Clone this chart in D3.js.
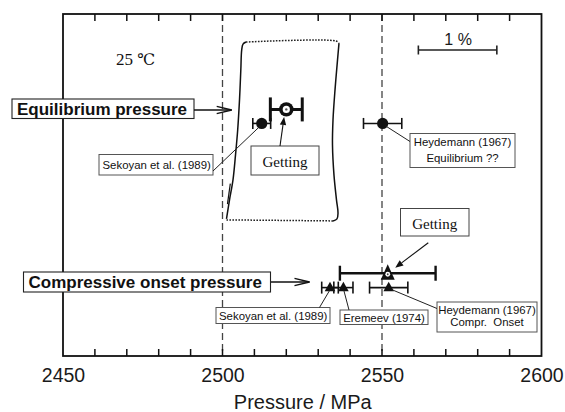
<!DOCTYPE html>
<html><head><meta charset="utf-8">
<script src="https://cdn.jsdelivr.net/npm/d3@7"></script>
<style>
html,body{margin:0;padding:0;background:#fff;}
text{white-space:pre;}
</style>
</head><body>
<svg id="chart" width="565" height="412"></svg>
<script>
// Pressure axis (MPa)
const xTickLabels = [2450, 2500, 2550, 2600];
const minorTicks = d3.range(2460, 2600, 10);
const refLines = [2500, 2550];

// Equilibrium pressure determinations: source, pressure, ± error, plot level
const eqSources = ["Getting", "Sekoyan et al. (1989)", "Heydemann (1967)"];
const eqPressure = [2520.0, 2512.3, 2550.2];
const eqError = [5.0, 2.8, 6.0];
const eqLevel = [7.21, 6.80, 6.80];

// Compressive onset pressure determinations
const onsetSources = ["Getting", "Sekoyan et al. (1989)", "Eremeev (1974)", "Heydemann (1967)"];
const onsetPressure = [2551.8, 2533.7, 2537.9, 2552.1];
const onsetError = [15.0, 2.6, 3.0, 6.0];
const onsetLevel = [2.42, 2.00, 2.00, 2.00];

// Hysteresis loop traced by Getting: [pressure, level]
const loopLeft = [[2501.25,4.01],[2502.19,4.56],[2503.29,5.15],[2504.08,5.88],[2504.76,6.61],
  [2505.33,7.49],[2505.74,8.36],[2506.02,8.95],[2506.43,9.12],[2507.37,9.18]];
const loopTop = [[2507.37,9.18],[2535.58,9.21],[2536.52,9.15]];
const loopRight = [[2536.52,9.15],[2536.05,8.65],[2535.27,7.78],[2534.64,6.90],[2534.48,6.17],
  [2534.95,5.29],[2535.74,4.56],[2536.21,4.18],[2535.89,4.01],[2534.64,3.95]];
const loopBottom = [[2534.64,3.95],[2501.25,3.98]];
const loopMark = [[2501.55,4.44],[2502.45,5.04]];

// 1 % strain scale bar, expressed along the pressure axis
const scaleBar = [2561.4, 2586.0];

const svg = d3.select("#chart");
const x = d3.scaleLinear().domain([2450, 2600]).range([63, 541.5]);
const y = d3.scaleLinear().domain([0, 10]).range([356, 14]);
const ink = "#111";
const sans = "Liberation Sans, Arial, sans-serif";
const serif = "Liberation Serif, Times New Roman, serif";

// dashed reference lines
refLines.forEach(d => svg.append("line")
  .attr("x1", x(d)).attr("x2", x(d))
  .attr("y1", y(10)).attr("y2", y(0))
  .attr("stroke", "#444").attr("stroke-width", 1.3).attr("stroke-dasharray", "7,4"));

// tick labels
const labelAxis = d3.axisBottom(x).tickValues(xTickLabels).tickSize(0).tickPadding(12).tickFormat(d3.format("d"));
const gl = svg.append("g").attr("transform", `translate(0,${y(0)})`).call(labelAxis);
gl.select(".domain").remove();
gl.selectAll(".tick text").attr("font-family", sans)
  .attr("font-size", 19.5).attr("fill", "#1a1a1a");

// frame
svg.append("rect").attr("x", x(2450)).attr("y", y(10))
  .attr("width", x(2600) - x(2450)).attr("height", y(0) - y(10))
  .attr("fill", "none").attr("stroke", ink).attr("stroke-width", 1.8);

// axis title
svg.append("text").attr("x", (x(2450) + x(2600)) / 2 + 0.5).attr("y", 409)
  .attr("text-anchor", "middle").attr("font-family", sans)
  .attr("font-size", 20).attr("fill", "#1a1a1a").text("Pressure / MPa");

// hysteresis loop
const line = d3.line().x(d => x(d[0])).y(d => y(d[1])).curve(d3.curveCatmullRom.alpha(0.5));
[loopLeft, loopRight].forEach(seg => {
  svg.append("path").attr("d", line(seg)).attr("fill", "none")
    .attr("stroke", ink).attr("stroke-width", 1.5);
});
[loopTop, loopBottom].forEach(seg => {
  svg.append("path").attr("d", line(seg)).attr("fill", "none")
    .attr("stroke", "#222").attr("stroke-width", 1.5).attr("stroke-dasharray", "1.6,1.4");
});
svg.append("path").attr("d", d3.line().x(d => x(d[0])).y(d => y(d[1]))(loopMark))
  .attr("fill", "none").attr("stroke", ink).attr("stroke-width", 1.2);

// temperature note
const temp = svg.append("text").attr("x", 116).attr("y", 65)
  .attr("font-family", serif).attr("font-size", 17).attr("fill", ink);
temp.append("tspan").text("25 ");
temp.append("tspan").attr("font-family", "DejaVu Serif, serif").attr("font-size", 16).text("℃");

// scale bar
const sb = svg.append("g").attr("stroke", "#222").attr("stroke-width", 1.6);
sb.append("line").attr("x1", x(scaleBar[0])).attr("x2", x(scaleBar[1])).attr("y1", 50).attr("y2", 50);
scaleBar.forEach(v => sb.append("line").attr("x1", x(v)).attr("x2", x(v)).attr("y1", 45.5).attr("y2", 54.5));
svg.append("text").attr("x", (x(scaleBar[0]) + x(scaleBar[1])) / 2 + 0.5).attr("y", 44.5)
  .attr("text-anchor", "middle").attr("font-family", sans)
  .attr("font-size", 16).attr("fill", "#1a1a1a").text("1 %");

// error bars
function errorBar(p, e, lev, cap, sw) {
  const g = svg.append("g").attr("stroke", ink).attr("stroke-width", sw);
  const cy = y(lev);
  g.append("line").attr("x1", x(p - e)).attr("x2", x(p + e)).attr("y1", cy).attr("y2", cy);
  [p - e, p + e].forEach(v => g.append("line").attr("x1", x(v)).attr("x2", x(v))
    .attr("y1", cy - cap).attr("y2", cy + cap));
}
eqSources.forEach((s, i) => {
  const big = s === "Getting";
  errorBar(eqPressure[i], eqError[i], eqLevel[i], big ? 12 : 5.5, big ? 3 : 1.6);
});
onsetSources.forEach((s, i) => {
  const big = s === "Getting";
  errorBar(onsetPressure[i], onsetError[i], onsetLevel[i], big ? 7.5 : 6, big ? 2.4 : 1.6);
});

// equilibrium markers
eqSources.forEach((s, i) => {
  const cx = x(eqPressure[i]), cy = y(eqLevel[i]);
  if (s === "Getting") {
    svg.append("circle").attr("cx", cx).attr("cy", cy).attr("r", 7.2).attr("fill", ink);
    svg.append("circle").attr("cx", cx).attr("cy", cy).attr("r", 3.6).attr("fill", "#fff");
    svg.append("circle").attr("cx", cx).attr("cy", cy).attr("r", 1.2).attr("fill", "#555");
  } else {
    svg.append("circle").attr("cx", cx).attr("cy", cy).attr("r", 5.6).attr("fill", ink);
  }
});

// onset markers
function tri(cx, cy, hw, up, down) {
  return `M${cx},${cy - up}L${cx + hw},${cy + down}L${cx - hw},${cy + down}Z`;
}
onsetSources.forEach((s, i) => {
  const cx = x(onsetPressure[i]), cy = y(onsetLevel[i]);
  if (s === "Getting") {
    svg.append("path").attr("d", tri(cx, cy, 7, 9, 6.5)).attr("fill", ink);
    svg.append("circle").attr("cx", cx).attr("cy", cy + 1).attr("r", 2.4).attr("fill", "#fff");
    svg.append("circle").attr("cx", cx).attr("cy", cy + 1).attr("r", 0.9).attr("fill", "#444");
  } else {
    svg.append("path").attr("d", tri(cx, cy, 5.3, 5.8, 3.6)).attr("fill", ink);
  }
});

// annotation helpers
function box(bx, by, w, h, sw, col) {
  svg.append("rect").attr("x", bx).attr("y", by).attr("width", w).attr("height", h)
    .attr("fill", "#fff").attr("stroke", col || "#333").attr("stroke-width", sw || 1);
}
function label(tx, ty, str, font, size, anchor, weight) {
  svg.append("text").attr("x", tx).attr("y", ty).attr("font-family", font)
    .attr("font-size", size).attr("text-anchor", anchor || "start")
    .attr("font-weight", weight || "normal").attr("fill", "#111").text(str);
}
function leader(x1, y1, x2, y2) {
  svg.append("line").attr("x1", x1).attr("y1", y1).attr("x2", x2).attr("y2", y2)
    .attr("stroke", "#222").attr("stroke-width", 1);
}
function openArrow(x1, x2, yy) {
  const g = svg.append("g").attr("stroke", ink).attr("stroke-width", 1.4).attr("fill", "none");
  g.append("line").attr("x1", x1).attr("x2", x2).attr("y1", yy).attr("y2", yy);
  g.append("path").attr("d", `M${x2 - 15},${yy - 3.6}L${x2},${yy}L${x2 - 15},${yy + 3.6}`);
}
function filledArrow(x1, y1, x2, y2) {
  const a = Math.atan2(y2 - y1, x2 - x1), L = 8, W = 3.2;
  const bx = x2 - L * Math.cos(a), by = y2 - L * Math.sin(a);
  svg.append("line").attr("x1", x1).attr("y1", y1).attr("x2", bx).attr("y2", by)
    .attr("stroke", ink).attr("stroke-width", 1.1);
  svg.append("path").attr("d",
    `M${x2},${y2}L${bx + W * Math.sin(a)},${by - W * Math.cos(a)}L${bx - W * Math.sin(a)},${by + W * Math.cos(a)}Z`)
    .attr("fill", ink);
}

// group headings
box(12, 99, 182, 19.5, 1.1, "#222");
label(17, 114.5, "Equilibrium pressure", sans, 17, "start", "bold");
openArrow(194, 231.7, 110);

box(23.5, 272, 247, 20, 1.1, "#222");
label(28.5, 288, "Compressive onset pressure", sans, 17, "start", "bold");
openArrow(271, 309.5, 282);

// equilibrium annotations
const eqPt = i => [x(eqPressure[i]), y(eqLevel[i])];
box(99, 154.5, 114, 20.5, 1, "#555");
label(102.5, 168.5, eqSources[1], sans, 11.4);
leader(213, 171, eqPt(1)[0] - 2, eqPt(1)[1] + 3);

box(251, 146, 68, 29, 1, "#444");
label(285, 166.5, eqSources[0], serif, 15, "middle");
filledArrow(280, 146, eqPt(0)[0] - 2.2, eqPt(0)[1] + 7.5);

box(410, 133.5, 105, 34, 1, "#555");
label(462.5, 146, eqSources[2], sans, 11.4, "middle");
label(462.5, 161.5, "Equilibrium ??", sans, 11.4, "middle");
leader(eqPt(2)[0] + 3, eqPt(2)[1] + 2.5, 410, 141.5);

// onset annotations
const onPt = i => [x(onsetPressure[i]), y(onsetLevel[i])];
box(400.5, 208.5, 68.5, 27.5, 1, "#444");
label(434.7, 228.5, onsetSources[0], serif, 15, "middle");
filledArrow(428.3, 242.7, onPt(0)[0] + 7.5, onPt(0)[1] - 5.5);

box(216, 307.5, 114, 16, 1, "#555");
label(219, 320, onsetSources[1], sans, 11.4);
leader(319.5, 307.5, onPt(1)[0] - 0.5, onPt(1)[1] + 3);

box(340, 310, 88, 14.5, 1, "#555");
label(384, 321.5, onsetSources[2], sans, 11.4, "middle");
leader(349, 310, onPt(2)[0] + 0.5, onPt(2)[1] + 3);

box(437, 302, 100, 30, 1, "#555");
label(487, 313.5, onsetSources[3], sans, 11.4, "middle");
label(487, 326, "Compr.  Onset", sans, 11.4, "middle");
leader(onPt(3)[0] + 3, onPt(3)[1] + 2, 437, 308.5);

// inward ticks on the bottom and top frame edges, every 10 MPa
const tickLen = 7;
const tickPath = minorTicks.map(d =>
  `M${x(d)},${y(0)}V${y(0) - tickLen}M${x(d)},${y(10)}V${y(10) + tickLen}`).join("");
svg.append("path").attr("d", tickPath).attr("fill", "none")
  .attr("stroke", ink).attr("stroke-width", 1.5);
</script>
</body></html>
